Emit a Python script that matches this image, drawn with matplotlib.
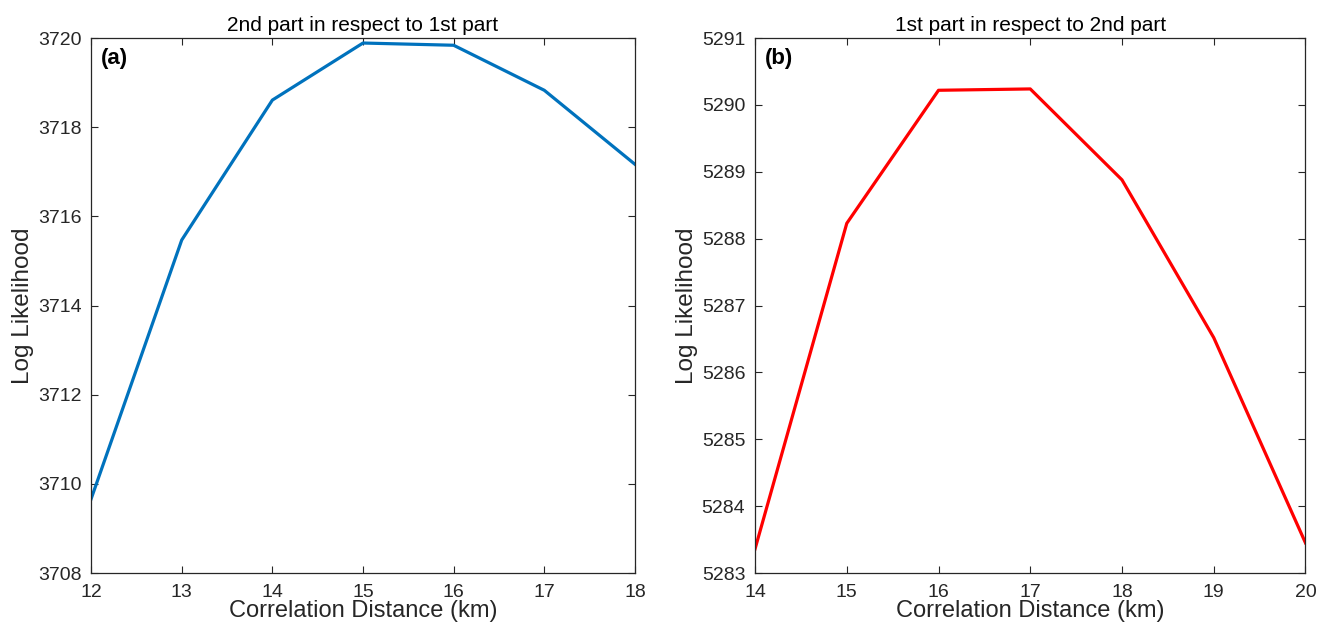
import matplotlib
matplotlib.use("Agg")
import matplotlib.pyplot as plt

plt.rcParams['font.family'] = ['Liberation Sans', 'DejaVu Sans']

x_a = [12, 13, 14, 15, 16, 17, 18]
y_a = [3709.66, 3715.47, 3718.61, 3719.89, 3719.84, 3718.83, 3717.17]
x_b = [14, 15, 16, 17, 18, 19, 20]
y_b = [5283.36, 5288.23, 5290.22, 5290.24, 5288.88, 5286.52, 5283.45]

title_a = "2nd part in respect to 1st part"
title_b = "1st part in respect to 2nd part"
xlabel = "Correlation Distance (km)"
ylabel = "Log Likelihood"

dark = '#262626'
fig = plt.figure(figsize=(13.2, 6.25), dpi=100)

def style(ax, xlim, ylim, yticks):
    ax.set_xlim(*xlim)
    ax.set_ylim(*ylim)
    ax.set_xticks(range(xlim[0], xlim[1] + 1))
    ax.set_yticks(yticks)
    ax.tick_params(direction='in', top=True, right=True, length=5, width=0.8,
                   colors=dark, labelsize=14)
    ax.tick_params(axis='x', pad=8)
    ax.tick_params(axis='y', pad=7)
    for s in ax.spines.values():
        s.set_color(dark)
        s.set_linewidth(0.9)
    ax.set_xlabel(xlabel, fontsize=17, color=dark, labelpad=-1)
    ax.set_ylabel(ylabel, fontsize=17.5, color=dark, labelpad=3)

ax1 = fig.add_axes([0.069, 0.0832, 0.412, 0.8558])
ax1.plot(x_a, y_a, color='#0072BD', lw=2.3)
style(ax1, (12, 18), (3708, 3720), list(range(3708, 3721, 2)))
ax1.set_title(title_a, fontsize=15, color='black', pad=5)
ax1.text(0.018, 0.982, '(a)', transform=ax1.transAxes, fontsize=16,
         fontweight='bold', va='top', ha='left', color='black')

ax2 = fig.add_axes([0.572, 0.0832, 0.417, 0.8558])
ax2.plot(x_b, y_b, color='#FF0000', lw=2.3)
style(ax2, (14, 20), (5283, 5291), list(range(5283, 5292)))
ax2.set_title(title_b, fontsize=15, color='black', pad=5)
ax2.text(0.018, 0.982, '(b)', transform=ax2.transAxes, fontsize=16,
         fontweight='bold', va='top', ha='left', color='black')

fig.savefig('out.png', dpi=100)
